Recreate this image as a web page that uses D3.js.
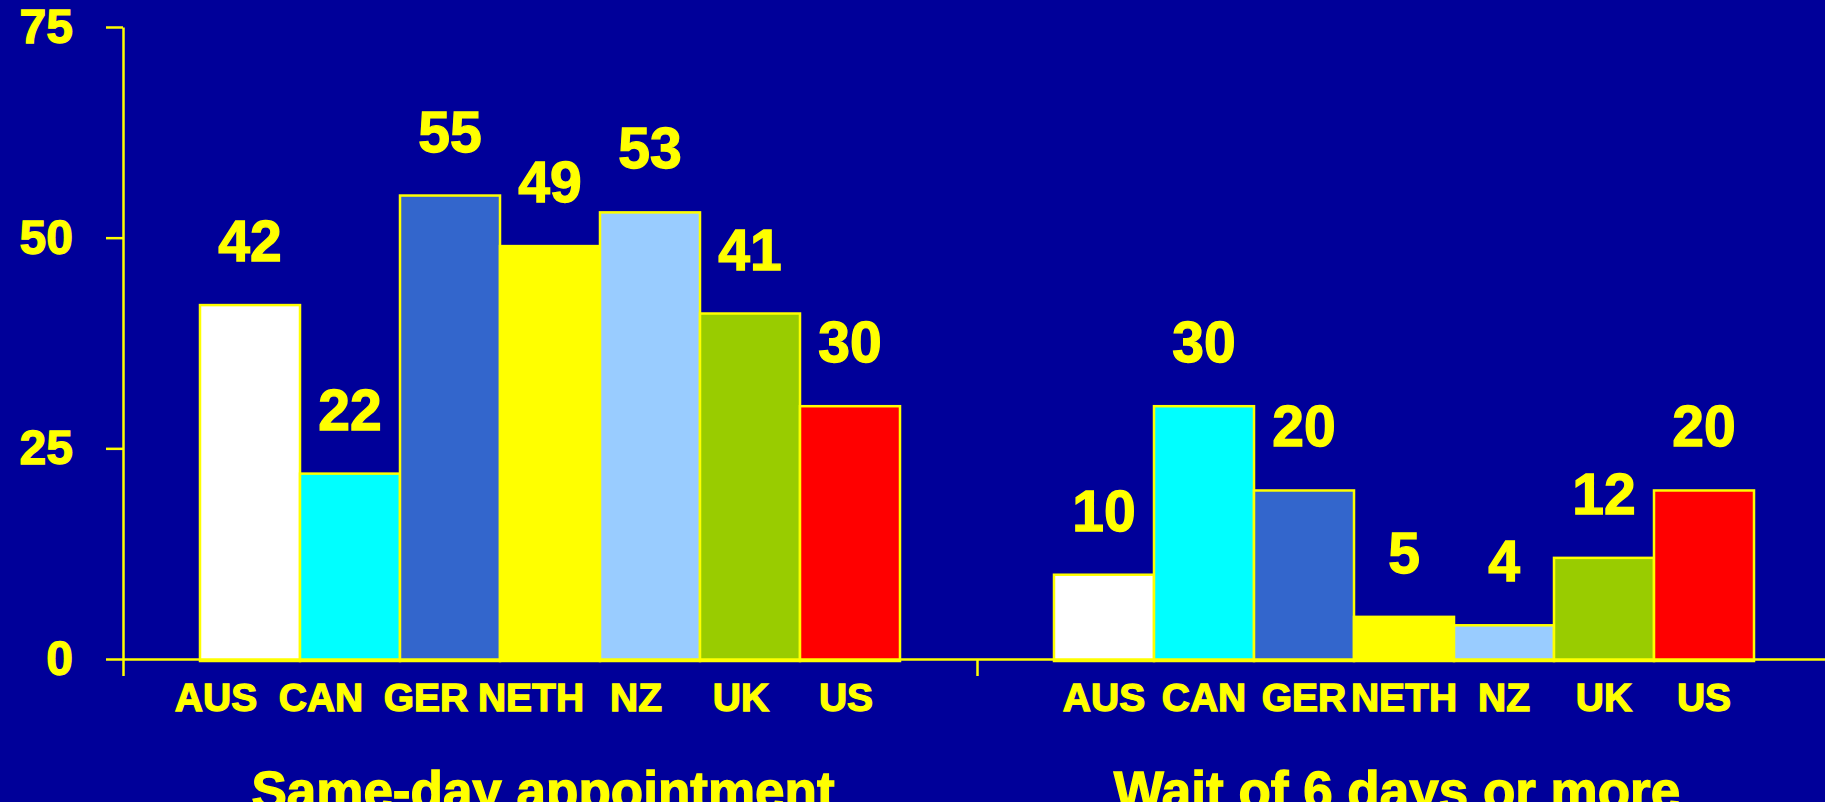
<!DOCTYPE html>
<html>
<head>
<meta charset="utf-8">
<script src="https://cdn.jsdelivr.net/npm/d3@7"></script>
<style>
  html, body { margin:0; padding:0; background:#000099; overflow:hidden; }
  svg { display:block; }
  text { font-family:"Liberation Sans", Arial, sans-serif; font-weight:bold; fill:#FFFF00; stroke:#FFFF00; stroke-width:1.3px; }
</style>
</head>
<body>
<script>
//=======================================================================
// data
var groups    = ["Same-day appointment", "Wait of 6 days or more"];
var countries = ["AUS", "CAN", "GER", "NETH", "NZ", "UK", "US"];
var sameDay   = [42, 22, 55, 49, 53, 41, 30];
var waitSix   = [10, 30, 20, 5, 4, 12, 20];
var yTicks    = [0, 25, 50, 75];
var barColors = ["#FFFFFF", "#00FFFF", "#3366CC", "#FFFF00", "#99CCFF", "#99CC00", "#FF0000"];
//-----------------------------------------------------------------------
var W = 1825, H = 802;
var yellow = "#FFFF00";

var v_Canvas = d3.select("body").append("svg")
	.attr("width", W)
	.attr("height", H);

v_Canvas.append("rect").attr("width", W).attr("height", H).attr("fill", "#000099");

var x0 = d3.scaleBand().domain(groups).range([123, 1831]);
var x1 = d3.scaleBand().domain(countries).range([0, x0.bandwidth()]).paddingOuter(0.77);
var y  = d3.scaleLinear().domain([0, 75]).range([659, 27]);
var color = d3.scaleOrdinal().domain(countries).range(barColors);

// group edges for the category axis ticks
var xEdge = d3.scaleLinear().domain([0, groups.length]).range(x0.range());

var tableRows = [];
groups.forEach(function(g, gi){
	var vals = gi === 0 ? sameDay : waitSix;
	countries.forEach(function(c, ci){
		tableRows.push({group: g, gi: gi, ci: ci, country: c, value: vals[ci]});
	});
});

// bars
v_Canvas.selectAll("rect.bar")
	.data(tableRows)
	.enter()
		.append("rect")
		.attr("class", "bar")
		.attr("x", function(d){ return x0(d.group) + x1(d.country); })
		.attr("width", x1.bandwidth())
		.attr("y", function(d){ return y(d.value); })
		.attr("height", function(d){ return y(0) - y(d.value) + 2; })
		.attr("fill", function(d){ return color(d.country); })
		.attr("stroke", yellow)
		.attr("stroke-width", 2.5);

// x axis (group separators)
var xAxis = v_Canvas.append("g")
	.attr("transform", "translate(0," + y(0) + ")")
	.call(d3.axisBottom(xEdge).tickValues(d3.range(groups.length + 1)).tickFormat("").tickSize(17).tickSizeOuter(0));
xAxis.selectAll("path, line").attr("stroke", yellow).attr("stroke-width", 2.5);

// y axis
var yAxis = v_Canvas.append("g")
	.attr("transform", "translate(123,0)")
	.call(d3.axisLeft(y).tickValues(yTicks).tickSize(17).tickSizeOuter(0).tickPadding(33));
yAxis.selectAll("path, line").attr("stroke", yellow).attr("stroke-width", 2.5);
yAxis.selectAll("text")
	.style("font-family", "'Liberation Sans', Arial, sans-serif")
	.style("font-weight", "bold")
	.style("font-size", "48px")
	.style("stroke", yellow)
	.style("stroke-width", "1.3px")
	.attr("fill", yellow);

// value labels
v_Canvas.selectAll("text.val")
	.data(tableRows)
	.enter()
		.append("text")
		.attr("class", "val")
		.attr("text-anchor", "middle")
		.attr("x", function(d){ return x0(d.group) + x1(d.country) + x1.bandwidth() / 2; })
		.attr("y", function(d){ return y(d.value) - 44; })
		.style("font-size", "57px")
		.text(function(d){ return d.value; });

// category labels (first group sits a bit to the left, as in the slide)
v_Canvas.selectAll("text.cat")
	.data(tableRows)
	.enter()
		.append("text")
		.attr("class", "cat")
		.attr("text-anchor", "middle")
		.attr("x", function(d){
			var shift = d.gi === 0 ? -34 + 5 * d.ci : 0;
			return x0(d.group) + x1(d.country) + x1.bandwidth() / 2 + shift;
		})
		.attr("y", 711)
		.style("font-size", "39px")
		.text(function(d){ return d.country; });

// group titles
v_Canvas.selectAll("text.grp")
	.data(groups)
	.enter()
		.append("text")
		.attr("class", "grp")
		.attr("text-anchor", "middle")
		.attr("x", function(d){ return x0(d) + x0.bandwidth() / 2 - 7; })
		.attr("y", 809)
		.style("font-size", "53px")
		.text(function(d){ return d; });
//=======================================================================
</script>
</body>
</html>
